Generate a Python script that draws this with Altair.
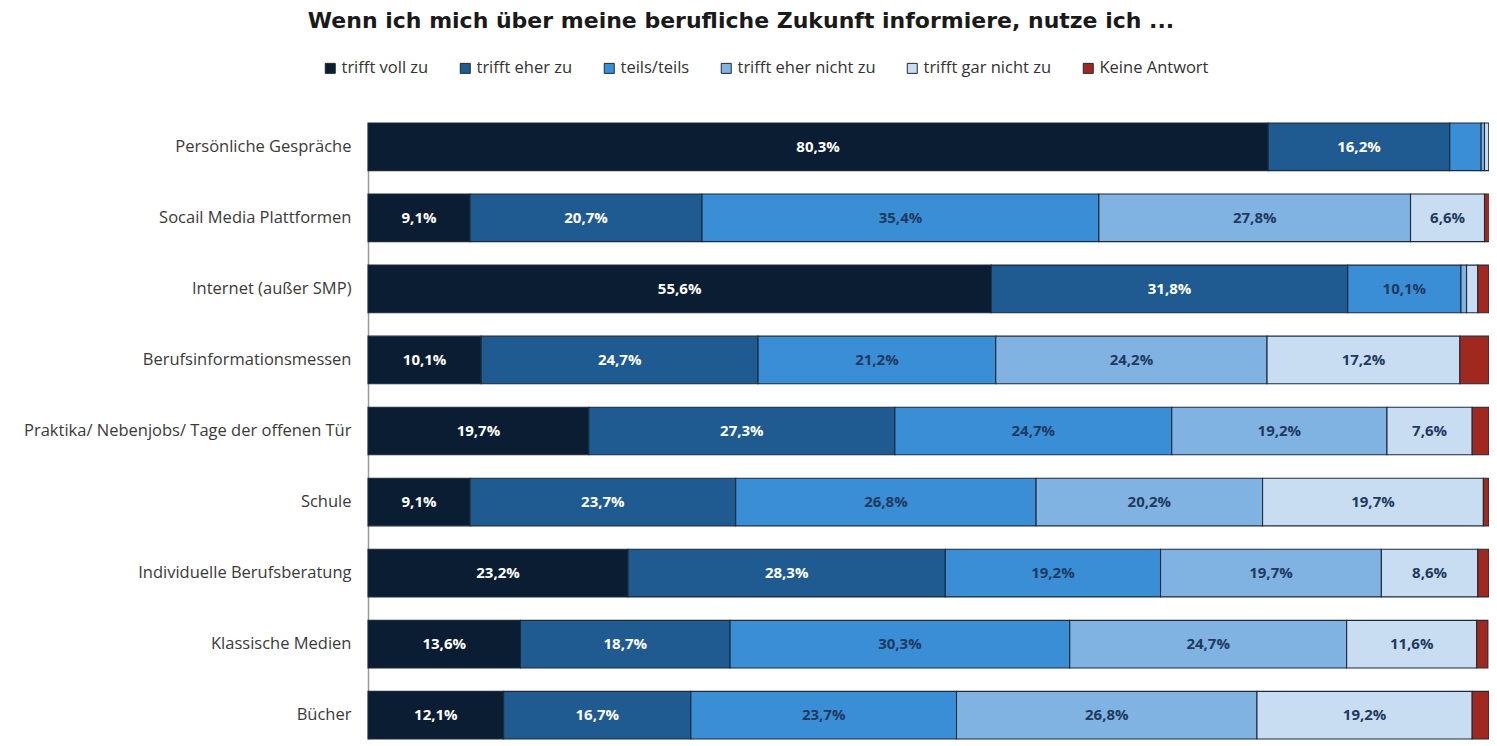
import altair as alt
import pandas as pd

TITLE = "Wenn ich mich über meine berufliche Zukunft informiere, nutze ich ..."

CATEGORIES = [
    "Persönliche Gespräche",
    "Socail Media Plattformen",
    "Internet (außer SMP)",
    "Berufsinformationsmessen",
    "Praktika/ Nebenjobs/ Tage der offenen Tür",
    "Schule",
    "Individuelle Berufsberatung",
    "Klassische Medien",
    "Bücher",
]

SERIES = [
    "trifft voll zu",
    "trifft eher zu",
    "teils/teils",
    "trifft eher nicht zu",
    "trifft gar nicht zu",
    "Keine Antwort",
]

voll_zu = [80.3, 9.1, 55.6, 10.1, 19.7, 9.1, 23.2, 13.6, 12.1]
eher_zu = [16.2, 20.7, 31.8, 24.7, 27.3, 23.7, 28.3, 18.7, 16.7]
teils = [2.8, 35.4, 10.1, 21.2, 24.7, 26.8, 19.2, 30.3, 23.7]
eher_nicht_zu = [0.3, 27.8, 0.5, 24.2, 19.2, 20.2, 19.7, 24.7, 26.8]
gar_nicht_zu = [0.4, 6.6, 1.0, 17.2, 7.6, 19.7, 8.6, 11.6, 19.2]
keine_antwort = [0.0, 0.5, 1.0, 2.6, 1.5, 0.5, 1.0, 1.0, 1.5]

COLORS = ["#0b1d33", "#1f5a91", "#3a8ed6", "#80b3e2", "#c8ddf1", "#a0281f"]
TEXT_COLORS = ["#ffffff", "#ffffff", "#1f3a60", "#1f3a60", "#1f3a60", "#1f3a60"]

all_values = [voll_zu, eher_zu, teils, eher_nicht_zu, gar_nicht_zu, keine_antwort]

rows = []
for ci, cat in enumerate(CATEGORIES):
    start = 0.0
    for si, s in enumerate(SERIES):
        v = all_values[si][ci]
        end = start + v
        rows.append({
            "Kategorie": cat,
            "Antwort": s,
            "order": si,
            "wert": v,
            "start": start,
            "end": end,
            "mid": (start + end) / 2,
            "label": (f"{v:.1f}%".replace(".", ",")) if v >= 5 else "",
            "tcolor": TEXT_COLORS[si],
        })
        start = end
df = pd.DataFrame(rows)

xscale = alt.Scale(domain=[0, 100], nice=False, zero=True)
yenc = alt.Y(
    "Kategorie:N",
    sort=CATEGORIES,
    scale=alt.Scale(paddingInner=0.33, paddingOuter=0),
    axis=alt.Axis(
        title=None,
        ticks=False,
        labelFont="Open Sans",
        labelFontSize=16.5,
        labelColor="#3a3a3a",
        labelPadding=17,
        labelLimit=420,
        domainColor="#9a9a9a",
        domainWidth=1.5,
    ),
)

bars = alt.Chart(df).mark_bar(stroke="#1c2a3a", strokeWidth=1.1).encode(
    x=alt.X("start:Q", scale=xscale, axis=None),
    x2="end:Q",
    y=yenc,
    color=alt.Color(
        "Antwort:N",
        scale=alt.Scale(domain=SERIES, range=COLORS),
        legend=alt.Legend(
            title=None,
            orient="none",
            legendX=-46,
            legendY=-63,
            direction="horizontal",
            symbolType="square",
            symbolSize=100,
            symbolStrokeColor="#1c2a3a",
            symbolStrokeWidth=1,
            labelFont="Open Sans",
            labelFontSize=16.5,
            labelColor="#333333",
            labelOffset=3,
            columnPadding=28,
        ),
    ),
)

labels = alt.Chart(df).mark_text(
    font="Open Sans", fontSize=15, fontWeight="bold", align="center", baseline="middle"
).encode(
    x=alt.X("mid:Q", scale=xscale),
    y=alt.Y("Kategorie:N", sort=CATEGORIES),
    text="label:N",
    color=alt.Color("tcolor:N", scale=None),
)

title_df = pd.DataFrame({"t": [TITLE]})
title = alt.Chart(title_df).mark_text(
    font="DejaVu Sans", fontSize=22, fontWeight="bold", color="#1a1a1a",
    align="center", baseline="middle",
).encode(
    text="t:N",
    x=alt.value(373),
    y=alt.value(-102),
)

chart = alt.layer(bars, labels, title).properties(
    width=1121,
    height=616,
    autosize=alt.AutoSizeParams(type="none"),
    padding={"left": 360, "top": 115, "right": 0, "bottom": 2},
).configure_view(stroke=None)

chart.save("out.html", embed_options={"renderer": "svg", "actions": False})
